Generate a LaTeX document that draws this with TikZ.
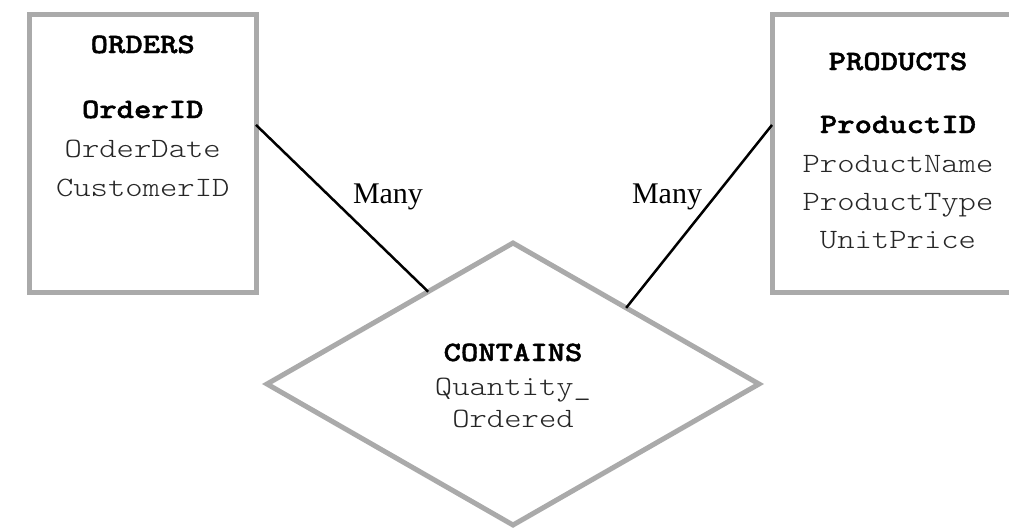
\documentclass[tikz,border=0pt]{standalone}
\usepackage{fontspec}
\setmainfont{Liberation Serif}
% typewriter faces, widened to a Courier-like advance
\newfontfamily\keyface{lmmonolt10-bold.otf}[FakeBold=1.6, FakeStretch=1.18]
\newfontfamily\plainface{lmmonolt10-regular.otf}[FakeStretch=1.18]
\usetikzlibrary{shapes.geometric,calc}
\definecolor{frame}{HTML}{AAAAAA}
\definecolor{attr}{HTML}{262626}
\begin{document}
\begin{tikzpicture}[x=1pt,y=-1pt,
  entity/.style={draw=frame, line width=5pt, rectangle, inner sep=0pt, outer sep=0pt},
  relation/.style={draw=frame, line width=5pt, diamond, inner sep=0pt, outer sep=0pt},
  keyattr/.style={font=\keyface\fontsize{28}{34}\selectfont, anchor=base, inner sep=0pt},
  plainattr/.style={font=\plainface\fontsize{28}{34}\selectfont, text=attr, anchor=base, inner sep=0pt},
  card/.style={font=\fontsize{30}{36}\selectfont, anchor=base, inner sep=0pt},
  link/.style={line width=2.5pt}]
\useasboundingbox (0,0) rectangle (1009,528);
\clip (0,0) rectangle (1009,528);

% entities and the relationship
\node[entity, minimum width=226.5pt, minimum height=277.5pt] (orders) at (142.75,153.25) {};
\node[entity, minimum width=252pt, minimum height=277.5pt] (products) at (898,153.25) {};
\node[relation, minimum width=492pt, minimum height=282pt] (contains) at (513,384) {};

% ORDERS
\node[keyattr] (ordersTitle) at (142.75,53) {ORDERS};
\node[keyattr] (orderId) at (142.75,118) {OrderID};
\node[plainattr] (orderDate) at (142.75,157) {OrderDate};
\node[plainattr] (customerId) at (142.75,196) {CustomerID};

% PRODUCTS
\node[keyattr] (productsTitle) at (898,70) {PRODUCTS};
\node[keyattr] (productId) at (898,133) {ProductID};
\node[plainattr] (productName) at (898,172) {ProductName};
\node[plainattr] (productType) at (898,210) {ProductType};
\node[plainattr] (unitPrice) at (898,248) {UnitPrice};

% CONTAINS
\node[keyattr] (containsTitle) at (513,361) {CONTAINS};
\node[plainattr] (qtyA) at (513,395) {Quantity\_};
\node[plainattr] (qtyB) at (513,427) {Ordered};

% connectors
\coordinate (oEnd) at ($(orders.north east)!0.398!(orders.south east)$);
\coordinate (pEnd) at ($(products.north west)!0.398!(products.south west)$);
\coordinate (cLeft) at ($(contains.north)!0.345!(contains.west)$);
\coordinate (cRight) at ($(contains.north)!0.46!(contains.east)$);
\draw[link] (oEnd) -- (cLeft);
\draw[link] (pEnd) -- (cRight);

% cardinalities
\node[card] (manyLeft) at (388,203) {Many};
\node[card] (manyRight) at (667,203) {Many};
\end{tikzpicture}
\end{document}
